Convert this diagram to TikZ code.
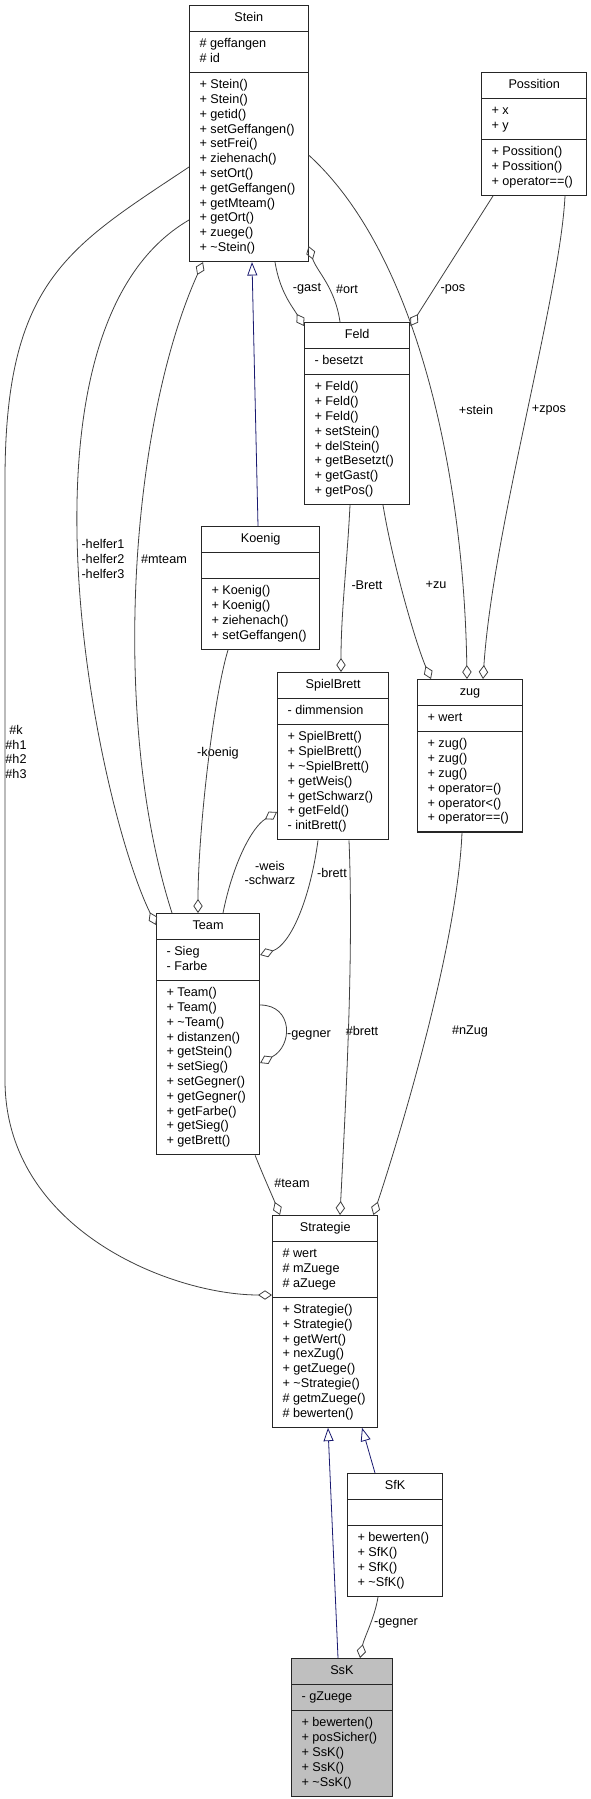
\documentclass[tikz,border=0pt]{standalone}
\usepackage{fontspec}
\setmainfont{Liberation Sans}
\usetikzlibrary{arrows.meta,calc,shapes.multipart}
\definecolor{edge}{HTML}{404040}
\definecolor{inh}{HTML}{191970}
\definecolor{leaf}{HTML}{BFBFBF}
\newcommand{\mbr}[1]{\begin{tabular}{@{}l@{}}#1\end{tabular}}
\tikzset{
  cls/.style={rectangle split,rectangle split parts=3,draw=black!85,line width=0.8pt,fill=white,
    anchor=north west,inner xsep=7.5pt,inner ysep=3.86pt,
    rectangle split part align={center,left,left},font=\fontsize{9.5}{11.1}\selectfont},
  lab/.style={font=\fontsize{9.5}{11.1}\selectfont,inner sep=0pt,align=center},
  agg/.style={-{Diamond[open,length=10.5pt,width=7pt]},draw=edge,line width=0.6pt},
  isa/.style={-{Triangle[open,length=10pt,width=7.5pt]},draw=inh,line width=0.6pt},
}
\begin{document}
\begin{tikzpicture}[x=0.75pt,y=-0.75pt]
\fill[white] (0,0) rectangle (591,1799);
\useasboundingbox (0,0) rectangle (591,1799);
% classes
\node[cls,minimum width=88.9pt] (stein) at (189,5) {\strut Stein
  \nodepart{two}\mbr{\# geffangen\\\# id}
  \nodepart{three}\mbr{+ Stein()\\+ Stein()\\+ getid()\\+ setGeffangen()\\+ setFrei()\\+ ziehenach()\\+ setOrt()\\+ getGeffangen()\\+ getMteam()\\+ getOrt()\\+ zuege()\\+ \textasciitilde Stein()}};
\node[cls,minimum width=79pt] (poss) at (481,72) {\strut Possition
  \nodepart{two}\mbr{+ x\\+ y}
  \nodepart{three}\mbr{+ Possition()\\+ Possition()\\+ operator==()}};
\node[cls,minimum width=79pt] (feld) at (304,322) {\strut Feld
  \nodepart{two}\mbr{- besetzt}
  \nodepart{three}\mbr{+ Feld()\\+ Feld()\\+ Feld()\\+ setStein()\\+ delStein()\\+ getBesetzt()\\+ getGast()\\+ getPos()}};
\node[cls,minimum width=88.7pt] (koenig) at (201,526) {\strut Koenig
  \nodepart{two}\strut
  \nodepart{three}\mbr{+ Koenig()\\+ Koenig()\\+ ziehenach()\\+ setGeffangen()}};
\node[cls,minimum width=83.3pt] (sb) at (277,672) {\strut SpielBrett
  \nodepart{two}\mbr{- dimmension}
  \nodepart{three}\mbr{+ SpielBrett()\\+ SpielBrett()\\+ \textasciitilde SpielBrett()\\+ getWeis()\\+ getSchwarz()\\+ getFeld()\\- initBrett()}};
\node[cls,minimum width=78.8pt] (zug) at (417,679) {\strut zug
  \nodepart{two}\mbr{+ wert}
  \nodepart{three}\mbr{+ zug()\\+ zug()\\+ zug()\\+ operator=()\\+ operator<()\\+ operator==()}};
\node[cls,minimum width=77.3pt] (team) at (156,913) {\strut Team
  \nodepart{two}\mbr{- Sieg\\- Farbe}
  \nodepart{three}\mbr{+ Team()\\+ Team()\\+ \textasciitilde Team()\\+ distanzen()\\+ getStein()\\+ setSieg()\\+ setGegner()\\+ getGegner()\\+ getFarbe()\\+ getSieg()\\+ getBrett()}};
\node[cls,minimum width=79pt] (strat) at (272,1215) {\strut Strategie
  \nodepart{two}\mbr{\# wert\\\# mZuege\\\# aZuege}
  \nodepart{three}\mbr{+ Strategie()\\+ Strategie()\\+ getWert()\\+ nexZug()\\+ getZuege()\\+ \textasciitilde Strategie()\\\# getmZuege()\\\# bewerten()}};
\node[cls,minimum width=71.3pt] (sfk) at (347,1473) {\strut SfK
  \nodepart{two}\strut
  \nodepart{three}\mbr{+ bewerten()\\+ SfK()\\+ SfK()\\+ \textasciitilde SfK()}};
\node[cls,minimum width=75.5pt,fill=leaf] (ssk) at (291,1658) {\strut SsK
  \nodepart{two}\mbr{- gZuege}
  \nodepart{three}\mbr{+ bewerten()\\+ posSicher()\\+ SsK()\\+ SsK()\\+ \textasciitilde SsK()}};
% labels
\node[lab] (lgast) at (307,289) {-gast};
\node[lab] (lort) at (347,289) {\#ort};
\node[lab] (lpos) at (453,289) {-pos};
\node[lab] (lstein) at (476,410) {+stein};
\node[lab] (lzpos) at (549,410) {+zpos};
\node[lab] (lzu) at (436,585) {+zu};
\node[lab] (lbrettf) at (367,585) {-Brett};
\node[lab] (lhelfer) at (103,559) {-helfer1\\-helfer2\\-helfer3};
\node[lab] (lmteam) at (164,559) {\#mteam};
\node[lab] (lkoenig) at (218,753) {-koenig};
\node[lab] (lweis) at (270,873) {-weis\\-schwarz};
\node[lab] (lbrett) at (332,873) {-brett};
\node[lab] (lgegner) at (309,1035) {-gegner};
\node[lab] (lteam) at (292,1183) {\#team};
\node[lab] (lbretts) at (362,1031) {\#brett};
\node[lab] (lnzug) at (470,1031) {\#nZug};
\node[lab] (lk) at (16,752) {\#k\\\#h1\\\#h2\\\#h3};
\node[lab] (lgegnerk) at (396,1623) {-gegner};
% inheritance
\draw[isa] ($(koenig.north west)+(57,0)$) -- ($(stein.south west)+(63,0)$);
\draw[isa] ($(ssk.north west)+(47,0)$) -- ($(strat.south west)+(56,0)$);
\draw[isa] ($(sfk.north west)+(28,0)$) -- ($(strat.south west)+(90,0)$);
% members
\draw[agg] ($(stein.south west)+(86,0)$) .. controls +(5,30) and +(-12,-20) .. ($(feld.north west)+(0,4)$);
\draw[agg] ($(feld.north west)+(36,0)$) .. controls +(-5,-35) and +(8,25) .. ($(stein.south east)+(0,-16)$);
\draw[agg] ($(poss.south west)+(12,0)$) -- ($(feld.north east)+(0,4)$);
\draw[agg] ($(stein.north east)+(0,150)$) .. controls +(110,100) and +(-3,-200) .. ($(zug.north west)+(50,0)$);
\draw[agg] ($(poss.south west)+(84,0)$) .. controls +(-5,100) and +(10,-150) .. ($(zug.north west)+(66,0)$);
\draw[agg] ($(feld.south west)+(79,0)$) .. controls +(10,60) and +(-15,-35) .. ($(zug.north west)+(14,0)$);
\draw[agg] ($(feld.south west)+(46,0)$) .. controls +(-3,60) and +(0,-60) .. ($(sb.north west)+(64,0)$);
\draw[agg] ($(stein.north west)+(0,215)$) .. controls +(-189,110) and +(-61,-125) .. ($(team.north west)+(0,12)$);
\draw[agg] ($(team.north west)+(16,0)$) .. controls +(-62,-193) and +(-73,162) .. ($(stein.south west)+(14,0)$);
\draw[agg] ($(koenig.south west)+(27,0)$) .. controls +(-15,50) and +(0,-80) .. ($(team.north west)+(42,0)$);
\draw[agg] ($(sb.south west)+(41,0)$) .. controls +(-8,60) and +(30,-10) .. ($(team.north east)+(0,42)$);
\draw[agg] ($(team.north west)+(67,0)$) .. controls +(10,-50) and +(-25,15) .. ($(sb.north west)+(0,140)$);
\draw[agg] ($(team.north east)+(0,92)$) .. controls +(33,0) and +(33,-17) .. ($(team.north east)+(0,150)$);
\draw[agg] ($(team.south east)+(-5,0)$) .. controls +(10,25) and +(-8,-20) .. ($(strat.north west)+(8,0)$);
\draw[agg] ($(sb.south west)+(72,0)$) .. controls +(5,120) and +(5,-100) .. ($(strat.north west)+(68,0)$);
\draw[agg] ($(zug.south west)+(45,0)$) .. controls +(-5,120) and +(20,-60) .. ($(strat.north east)+(-5,0)$);
\draw[agg] ($(stein.north west)+(0,162)$) .. controls +(-120,80) and +(0,-200) .. (5,480) -- (5,1080)
  .. controls +(0,150) and +(-100,0) .. ($(strat.north west)+(0,80)$);
\draw[agg] ($(sfk.south west)+(31,0)$) .. controls +(-3,20) and +(4,-20) .. ($(ssk.north west)+(69,0)$);
\end{tikzpicture}
\end{document}
